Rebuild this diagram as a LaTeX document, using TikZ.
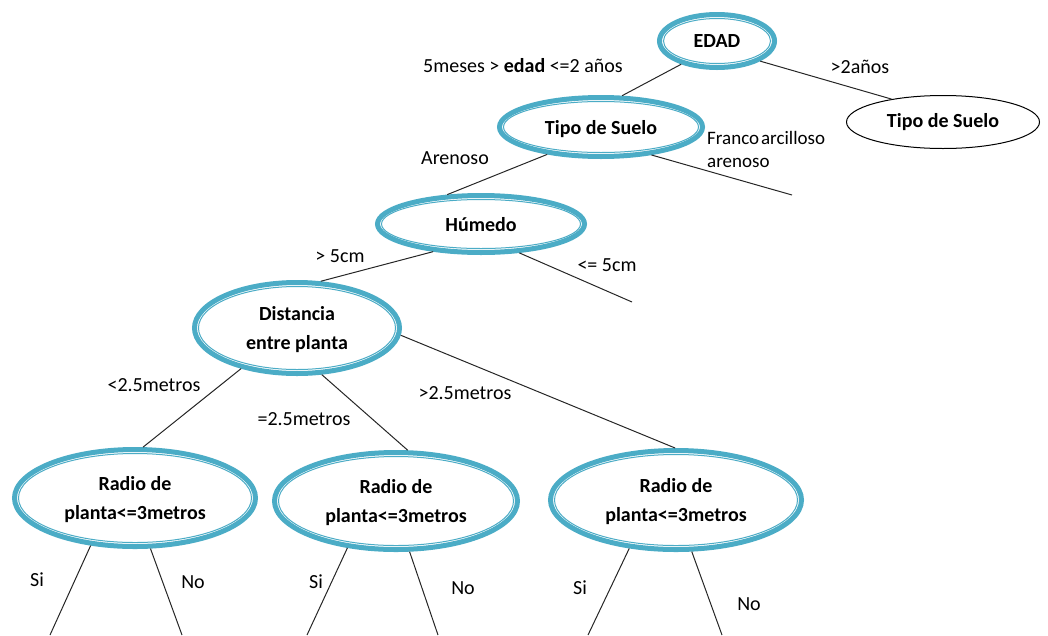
\documentclass[tikz,border=0pt]{standalone}
\usepackage{fontspec}
\setmainfont{Carlito}
\usetikzlibrary{shapes.geometric,calc}
\definecolor{aqua}{HTML}{4BACC6}
\begin{document}
\begin{tikzpicture}[x=1pt,y=-1pt,
  dbl/.style={ellipse, draw=aqua, line width=5pt, fill=white, inner sep=0pt,
    align=center, text depth=-3pt, font=\fontsize{20}{29}\selectfont\bfseries},
  plain/.style={ellipse, draw=black, line width=1pt, fill=white, inner sep=0pt,
    align=center, font=\fontsize{20}{29}\selectfont\bfseries},
  lbl/.style={font=\fontsize{20}{23}\selectfont, inner sep=0pt, align=left},
  edge/.style={draw=black!85, line width=1pt}]
\useasboundingbox (0,0) rectangle (1048,635);

\node[dbl, minimum width=115, minimum height=53] (edad) at (717,41) {EDAD};
\node[plain, minimum width=193, minimum height=53] (tipoR) at (943,122) {Tipo de Suelo};
\node[dbl, minimum width=203, minimum height=59] (tipoL) at (601,127) {Tipo de Suelo};
\node[dbl, minimum width=207, minimum height=57] (humedo) at (481,224) {Húmedo};
\node[dbl, minimum width=205, minimum height=91] (dist) at (297,328) {Distancia\\entre planta};
\node[dbl, minimum width=241, minimum height=97] (r1) at (135,498) {Radio de\\planta<=3metros};
\node[dbl, minimum width=243, minimum height=97] (r2) at (396,501) {Radio de\\planta<=3metros};
\node[dbl, minimum width=251, minimum height=99] (r3) at (676,500) {Radio de\\planta<=3metros};

% inner thin ellipses
\foreach \nd in {edad,tipoL,humedo,dist,r1,r2,r3}{
  \path let \p1=($(\nd.east)-(\nd.center)$), \p2=($(\nd.north)-(\nd.center)$) in
    [draw=aqua, line width=1pt] (\nd.center) ellipse [x radius={\x1-6.5pt}, y radius={abs(\y2)-6.5pt}];
}

\coordinate (fT) at (792,195);
\coordinate (fH) at (632,302);
\coordinate (e1) at (50,635);
\coordinate (e2) at (182,635);
\coordinate (e3) at (307,635);
\coordinate (e4) at (438,635);
\coordinate (e5) at (588,635);
\coordinate (e6) at (722,635);

\draw[edge] (edad.213) -- (tipoL.56);
\draw[edge] (edad.335) -- (tipoR.156);
\draw[edge] (tipoL.207) -- (humedo.139);
\draw[edge] (tipoL.331) -- (fT);
\draw[edge] (humedo.210) -- (dist.63);
\draw[edge] (humedo.323) -- (fH);
\draw[edge] (dist.216) -- (r1.81);
\draw[edge] (dist.298) -- (r2.77);
\draw[edge] (dist.356) -- (r3.91);
\draw[edge] (r1.227) -- (e1);
\draw[edge] (r1.287) -- (e2);
\draw[edge] (r2.224) -- (e3);
\draw[edge] (r2.285) -- (e4);
\draw[edge] (r3.226) -- (e5);
\draw[edge] (r3.287) -- (e6);

\node[lbl] (l1) at (523,66) {5meses > \textbf{edad} <=2 años};
\node[lbl] (l2) at (860,67) {>2años};
\node[lbl, anchor=west, font=\fontsize{19}{23}\selectfont] (l3) at (707,149) {Franco\hspace{2pt}arcilloso\\arenoso};
\node[lbl] (l4) at (455,158) {Arenoso};
\node[lbl] (l5) at (340,256) {> 5cm};
\node[lbl] (l6) at (607,265) {<= 5cm};
\node[lbl] (l7) at (154,385) {<2.5metros};
\node[lbl] (l8) at (304,419) {=2.5metros};
\node[lbl] (l9) at (465,393) {>2.5metros};
\node[lbl] (s1) at (37,580) {Si};
\node[lbl] (n1) at (193,582) {No};
\node[lbl] (s2) at (316,582) {Si};
\node[lbl] (n2) at (463,588) {No};
\node[lbl] (s3) at (580,588) {Si};
\node[lbl] (n3) at (749,604) {No};
\end{tikzpicture}
\end{document}
